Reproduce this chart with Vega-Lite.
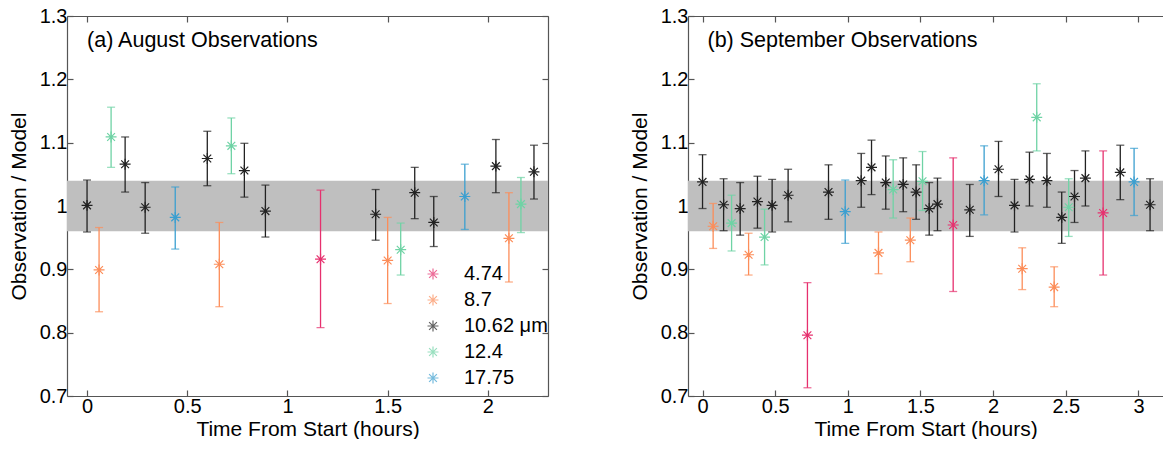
{
  "$schema": "https://vega.github.io/schema/vega-lite/v6.json",
  "padding": {"left": 8, "top": 6, "right": 0, "bottom": 0},
  "bounds": "flush",
  "spacing": 140,
  "config": {
    "font": "Liberation Sans",
    "view": {"stroke": null},
    "axis": {"labelFontSize": 20, "titleFontSize": 21, "labelColor": "#000", "titleColor": "#000", "titleFontWeight": "normal", "domainColor": "#555", "domainWidth": 1.2, "tickColor": "#555", "tickSize": -6, "tickWidth": 1.2, "grid": false, "labelPadding": 6},
    "legend": {"labelFontSize": 20, "labelColor": "#000"}
  },
  "datasets": {
    "aug": [
      {"band": "10.62 μm", "t": 0.00, "v": 1.001, "lo": 0.959, "hi": 1.041},
      {"band": "8.7", "t": 0.06, "v": 0.899, "lo": 0.833, "hi": 0.966},
      {"band": "12.4", "t": 0.12, "v": 1.109, "lo": 1.061, "hi": 1.156},
      {"band": "10.62 μm", "t": 0.19, "v": 1.066, "lo": 1.022, "hi": 1.109},
      {"band": "10.62 μm", "t": 0.29, "v": 0.998, "lo": 0.957, "hi": 1.037},
      {"band": "17.75", "t": 0.44, "v": 0.982, "lo": 0.932, "hi": 1.030},
      {"band": "10.62 μm", "t": 0.60, "v": 1.075, "lo": 1.032, "hi": 1.118},
      {"band": "8.7", "t": 0.66, "v": 0.908, "lo": 0.841, "hi": 0.974},
      {"band": "12.4", "t": 0.72, "v": 1.095, "lo": 1.051, "hi": 1.139},
      {"band": "10.62 μm", "t": 0.785, "v": 1.056, "lo": 1.014, "hi": 1.099},
      {"band": "10.62 μm", "t": 0.89, "v": 0.992, "lo": 0.951, "hi": 1.033},
      {"band": "4.74", "t": 1.165, "v": 0.916, "lo": 0.808, "hi": 1.025},
      {"band": "10.62 μm", "t": 1.44, "v": 0.987, "lo": 0.946, "hi": 1.026},
      {"band": "8.7", "t": 1.50, "v": 0.914, "lo": 0.846, "hi": 0.982},
      {"band": "12.4", "t": 1.565, "v": 0.931, "lo": 0.891, "hi": 0.973},
      {"band": "10.62 μm", "t": 1.635, "v": 1.021, "lo": 0.980, "hi": 1.061},
      {"band": "10.62 μm", "t": 1.73, "v": 0.974, "lo": 0.936, "hi": 1.015},
      {"band": "17.75", "t": 1.885, "v": 1.015, "lo": 0.963, "hi": 1.066},
      {"band": "10.62 μm", "t": 2.04, "v": 1.063, "lo": 1.021, "hi": 1.105},
      {"band": "8.7", "t": 2.105, "v": 0.949, "lo": 0.880, "hi": 1.021},
      {"band": "12.4", "t": 2.165, "v": 1.003, "lo": 0.958, "hi": 1.045},
      {"band": "10.62 μm", "t": 2.23, "v": 1.054, "lo": 1.011, "hi": 1.096}
    ],
    "sep": [
      {"band": "10.62 μm", "t": 0.00, "v": 1.038, "lo": 0.996, "hi": 1.081},
      {"band": "8.7", "t": 0.073, "v": 0.968, "lo": 0.933, "hi": 1.004},
      {"band": "10.62 μm", "t": 0.145, "v": 1.002, "lo": 0.961, "hi": 1.043},
      {"band": "12.4", "t": 0.20, "v": 0.973, "lo": 0.929, "hi": 1.017},
      {"band": "10.62 μm", "t": 0.259, "v": 0.996, "lo": 0.954, "hi": 1.037},
      {"band": "8.7", "t": 0.317, "v": 0.923, "lo": 0.891, "hi": 0.957},
      {"band": "10.62 μm", "t": 0.378, "v": 1.007, "lo": 0.965, "hi": 1.047},
      {"band": "12.4", "t": 0.427, "v": 0.951, "lo": 0.907, "hi": 0.995},
      {"band": "10.62 μm", "t": 0.479, "v": 1.001, "lo": 0.959, "hi": 1.042},
      {"band": "10.62 μm", "t": 0.589, "v": 1.017, "lo": 0.975, "hi": 1.058},
      {"band": "4.74", "t": 0.722, "v": 0.796, "lo": 0.713, "hi": 0.879},
      {"band": "10.62 μm", "t": 0.867, "v": 1.022, "lo": 0.979, "hi": 1.065},
      {"band": "17.75", "t": 0.982, "v": 0.991, "lo": 0.941, "hi": 1.041},
      {"band": "10.62 μm", "t": 1.092, "v": 1.040, "lo": 0.998, "hi": 1.083},
      {"band": "10.62 μm", "t": 1.163, "v": 1.061, "lo": 1.018, "hi": 1.104},
      {"band": "8.7", "t": 1.211, "v": 0.926, "lo": 0.893, "hi": 0.959},
      {"band": "10.62 μm", "t": 1.261, "v": 1.037, "lo": 0.995, "hi": 1.079},
      {"band": "12.4", "t": 1.312, "v": 1.026, "lo": 0.981, "hi": 1.073},
      {"band": "10.62 μm", "t": 1.381, "v": 1.034, "lo": 0.991, "hi": 1.076},
      {"band": "8.7", "t": 1.43, "v": 0.946, "lo": 0.912, "hi": 0.981},
      {"band": "10.62 μm", "t": 1.47, "v": 1.022, "lo": 0.979, "hi": 1.065},
      {"band": "12.4", "t": 1.514, "v": 1.039, "lo": 0.993, "hi": 1.086},
      {"band": "10.62 μm", "t": 1.56, "v": 0.996, "lo": 0.954, "hi": 1.037},
      {"band": "10.62 μm", "t": 1.617, "v": 1.003, "lo": 0.961, "hi": 1.044},
      {"band": "4.74", "t": 1.725, "v": 0.970, "lo": 0.865, "hi": 1.076},
      {"band": "10.62 μm", "t": 1.839, "v": 0.994, "lo": 0.952, "hi": 1.034},
      {"band": "17.75", "t": 1.938, "v": 1.040, "lo": 0.986, "hi": 1.095},
      {"band": "10.62 μm", "t": 2.037, "v": 1.058, "lo": 1.015, "hi": 1.102},
      {"band": "10.62 μm", "t": 2.147, "v": 1.001, "lo": 0.959, "hi": 1.042},
      {"band": "8.7", "t": 2.20, "v": 0.901, "lo": 0.868, "hi": 0.934},
      {"band": "10.62 μm", "t": 2.25, "v": 1.042, "lo": 1.000, "hi": 1.085},
      {"band": "12.4", "t": 2.30, "v": 1.140, "lo": 1.087, "hi": 1.193},
      {"band": "10.62 μm", "t": 2.37, "v": 1.040, "lo": 0.998, "hi": 1.083},
      {"band": "8.7", "t": 2.42, "v": 0.872, "lo": 0.841, "hi": 0.904},
      {"band": "10.62 μm", "t": 2.472, "v": 0.982, "lo": 0.941, "hi": 1.022},
      {"band": "12.4", "t": 2.52, "v": 0.998, "lo": 0.952, "hi": 1.043},
      {"band": "10.62 μm", "t": 2.56, "v": 1.015, "lo": 0.974, "hi": 1.056},
      {"band": "10.62 μm", "t": 2.635, "v": 1.044, "lo": 1.000, "hi": 1.087},
      {"band": "4.74", "t": 2.757, "v": 0.989, "lo": 0.891, "hi": 1.087},
      {"band": "10.62 μm", "t": 2.875, "v": 1.053, "lo": 1.010, "hi": 1.096},
      {"band": "17.75", "t": 2.97, "v": 1.038, "lo": 0.985, "hi": 1.091},
      {"band": "10.62 μm", "t": 3.08, "v": 1.002, "lo": 0.961, "hi": 1.043}
    ],
    "bandrange": [{"lo": 0.96, "hi": 1.04}],
    "one": [{}]
  },
  "resolve": {"scale": {"color": "independent"}},
  "hconcat": [
    {
      "width": 481,
      "height": 380,
      "resolve": {"axis": {"x": "independent", "y": "independent"}},
      "layer": [
        {
          "data": {"name": "bandrange"},
          "mark": {"type": "rect", "color": "#bfbfbf"},
          "encoding": {
            "y": {"field": "lo", "type": "quantitative", "scale": {"domain": [0.7, 1.3]}, "axis": {"orient": "left", "title": "Observation / Model", "values": [0.7, 0.8, 0.9, 1.0, 1.1, 1.2, 1.3], "format": "~g", "titlePadding": 10}},
            "y2": {"field": "hi"}
          }
        },
        {
          "data": {"name": "aug"},
          "mark": {"type": "rule", "strokeWidth": 1.3},
          "encoding": {
            "x": {"field": "t", "type": "quantitative", "scale": {"domain": [-0.1, 2.3], "nice": false}, "axis": {"orient": "bottom", "title": "Time From Start (hours)", "values": [0, 0.5, 1, 1.5, 2], "format": "~g", "titlePadding": 2}},
            "y": {"field": "lo", "type": "quantitative", "axis": null},
            "y2": {"field": "hi"},
            "color": {"field": "band", "type": "nominal", "scale": {"domain": ["4.74", "8.7", "10.62 μm", "12.4", "17.75"], "range": ["#e6306e", "#fc8d59", "#222222", "#6fd3a5", "#3b9fd0"]}, "legend": {"title": null, "orient": "none", "legendX": 356, "legendY": 248, "padding": 0, "symbolType": "M-1,0L1,0M0,-1L0,1M-0.71,-0.71L0.71,0.71M-0.71,0.71L0.71,-0.71", "symbolSize": 120, "symbolStrokeWidth": 1.2, "symbolFillColor": "transparent", "labelOffset": 21, "rowPadding": 6, "labelFontSize": 20}}
          }
        },
        {
          "data": {"name": "aug"},
          "mark": {"type": "tick", "orient": "horizontal", "size": 8, "thickness": 1.3},
          "encoding": {
            "x": {"field": "t", "type": "quantitative", "axis": {"orient": "top", "title": null, "labels": false, "domain": true, "values": [0, 0.5, 1, 1.5, 2]}},
            "y": {"field": "lo", "type": "quantitative", "axis": null},
            "color": {"field": "band", "type": "nominal"}
          }
        },
        {
          "data": {"name": "aug"},
          "mark": {"type": "tick", "orient": "horizontal", "size": 8, "thickness": 1.3},
          "encoding": {
            "x": {"field": "t", "type": "quantitative", "axis": null},
            "y": {"field": "hi", "type": "quantitative", "axis": {"orient": "right", "title": null, "labels": false, "domain": true, "values": [0.7, 0.8, 0.9, 1.0, 1.1, 1.2, 1.3]}},
            "color": {"field": "band", "type": "nominal"}
          }
        },
        {
          "data": {"name": "aug"},
          "mark": {"type": "point", "shape": "M-1,0L1,0M0,-1L0,1M-0.71,-0.71L0.71,0.71M-0.71,0.71L0.71,-0.71", "filled": false, "size": 120, "strokeWidth": 1.2, "opacity": 1},
          "encoding": {
            "x": {"field": "t", "type": "quantitative", "axis": null},
            "y": {"field": "v", "type": "quantitative", "axis": null},
            "color": {"field": "band", "type": "nominal"}
          }
        },
        {
          "data": {"name": "one"},
          "mark": {"type": "text", "text": "(a) August Observations", "align": "left", "baseline": "middle", "fontSize": 21.5, "color": "#000"},
          "encoding": {"x": {"datum": 0.0, "axis": null}, "y": {"datum": 1.26, "axis": null}}
        }
      ]
    },
    {
      "width": 475,
      "height": 380,
      "resolve": {"axis": {"x": "independent", "y": "independent"}},
      "layer": [
        {
          "data": {"name": "bandrange"},
          "mark": {"type": "rect", "color": "#bfbfbf"},
          "encoding": {
            "y": {"field": "lo", "type": "quantitative", "scale": {"domain": [0.7, 1.3]}, "axis": {"orient": "left", "title": "Observation / Model", "values": [0.7, 0.8, 0.9, 1.0, 1.1, 1.2, 1.3], "format": "~g", "titlePadding": 10}},
            "y2": {"field": "hi"}
          }
        },
        {
          "data": {"name": "sep"},
          "mark": {"type": "rule", "strokeWidth": 1.3},
          "encoding": {
            "x": {"field": "t", "type": "quantitative", "scale": {"domain": [-0.1, 3.169], "nice": false}, "axis": {"orient": "bottom", "title": "Time From Start (hours)", "values": [0, 0.5, 1, 1.5, 2, 2.5, 3], "format": "~g", "titlePadding": 2}},
            "y": {"field": "lo", "type": "quantitative", "axis": null},
            "y2": {"field": "hi"},
            "color": {"field": "band", "type": "nominal", "scale": {"domain": ["4.74", "8.7", "10.62 μm", "12.4", "17.75"], "range": ["#e6306e", "#fc8d59", "#222222", "#6fd3a5", "#3b9fd0"]}, "legend": null}
          }
        },
        {
          "data": {"name": "sep"},
          "mark": {"type": "tick", "orient": "horizontal", "size": 8, "thickness": 1.3},
          "encoding": {
            "x": {"field": "t", "type": "quantitative", "axis": {"orient": "top", "title": null, "labels": false, "domain": true, "values": [0, 0.5, 1, 1.5, 2, 2.5, 3]}},
            "y": {"field": "lo", "type": "quantitative", "axis": null},
            "color": {"field": "band", "type": "nominal"}
          }
        },
        {
          "data": {"name": "sep"},
          "mark": {"type": "tick", "orient": "horizontal", "size": 8, "thickness": 1.3},
          "encoding": {
            "x": {"field": "t", "type": "quantitative", "axis": null},
            "y": {"field": "hi", "type": "quantitative", "axis": null},
            "color": {"field": "band", "type": "nominal"}
          }
        },
        {
          "data": {"name": "sep"},
          "mark": {"type": "point", "shape": "M-1,0L1,0M0,-1L0,1M-0.71,-0.71L0.71,0.71M-0.71,0.71L0.71,-0.71", "filled": false, "size": 120, "strokeWidth": 1.2, "opacity": 1},
          "encoding": {
            "x": {"field": "t", "type": "quantitative", "axis": null},
            "y": {"field": "v", "type": "quantitative", "axis": null},
            "color": {"field": "band", "type": "nominal"}
          }
        },
        {
          "data": {"name": "one"},
          "mark": {"type": "text", "text": "(b) September Observations", "align": "left", "baseline": "middle", "fontSize": 21.5, "color": "#000"},
          "encoding": {"x": {"datum": 0.034, "axis": null}, "y": {"datum": 1.26, "axis": null}}
        }
      ]
    }
  ]
}
